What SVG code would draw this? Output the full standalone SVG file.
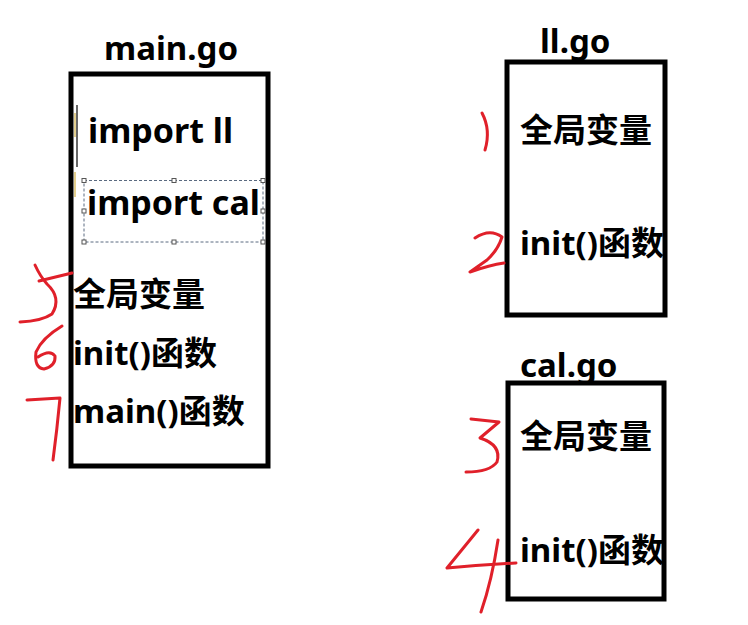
<svg xmlns="http://www.w3.org/2000/svg" width="748" height="625" viewBox="0 0 748 625">
<style>
.box{fill:none;stroke:#000;stroke-width:5}
.t{font-family:"Noto Sans","Noto Sans CJK SC",sans-serif;font-weight:bold;fill:#000}
.lat{font-size:33px}
.imp{font-size:34px}
.cjk{font-size:33px}
.red{fill:none;stroke:#e0202a;stroke-width:3;stroke-linecap:round;stroke-linejoin:round}
.sel{fill:none;stroke:#5a6a80;stroke-width:1;stroke-dasharray:3,2}
.h{fill:#fff;stroke:#555;stroke-width:1}
</style>
<rect width="748" height="625" fill="#fff"/>
<g id="main">
<text class="t lat" x="104" y="60">main.go</text>
<rect class="box" x="71" y="74" width="197" height="392"/>
<line x1="77" y1="105" x2="77" y2="167" stroke="#000" stroke-width="1.2"/>
<line x1="75" y1="113" x2="75" y2="137" stroke="#c8a020" stroke-width="1"/>
<line x1="75" y1="172" x2="75" y2="197" stroke="#c8a020" stroke-width="1"/>
<text class="t imp" x="88" y="143">import ll</text>
<rect class="sel" x="84" y="180.5" width="179" height="61.5"/>
<g>
<rect class="h" x="82" y="178.5" width="4" height="4"/><rect class="h" x="172" y="178.5" width="4" height="4"/><rect class="h" x="261" y="178.5" width="4" height="4"/>
<rect class="h" x="82" y="209" width="4" height="4"/><rect class="h" x="261" y="209" width="4" height="4"/>
<rect class="h" x="82" y="240" width="4" height="4"/><rect class="h" x="172" y="240" width="4" height="4"/><rect class="h" x="261" y="240" width="4" height="4"/>
</g>
<text class="t imp" x="87" y="215">import cal</text>
<text class="t cjk" x="73" y="306">全局变量</text>
<text class="t cjk" x="73" y="365">init()函数</text>
<text class="t cjk" x="73" y="423">main()函数</text>
</g>
<g id="ll">
<text class="t lat" x="540" y="53">ll.go</text>
<rect class="box" x="507" y="62" width="158" height="253"/>
<text class="t cjk" x="520" y="142">全局变量</text>
<text class="t cjk" x="520" y="255">init()函数</text>
</g>
<g id="cal">
<text class="t lat" x="520" y="377">cal.go</text>
<rect class="box" x="508" y="383" width="156" height="216"/>
<text class="t cjk" x="520" y="448">全局变量</text>
<text class="t cjk" x="520" y="562">init()函数</text>
</g>
<g id="marks">
<path class="red" d="M72,273 L39,281 M35,265 Q40,276 47,284 Q62,298 52,314 Q42,321 20,322"/>
<path class="red" d="M62,326 Q42,338 36,352 Q34,368 44,369 Q56,366 55,356 Q50,349 38,357"/>
<path class="red" d="M27,400 L60,398 Q57,430 53,460"/>
<path class="red" d="M482,113 Q491,130 485,150"/>
<path class="red" d="M475,238 Q490,228 502,237 Q498,250 487,260 L470,272 Q490,265 504,263"/>
<path class="red" d="M471,419 L499,422 L480,438 Q502,445 497,462 Q490,472 466,472"/>
<path class="red" d="M478,530 L447,568 Q480,565 516,563 M498,540 Q492,580 481,612"/>
</g>
</svg>
